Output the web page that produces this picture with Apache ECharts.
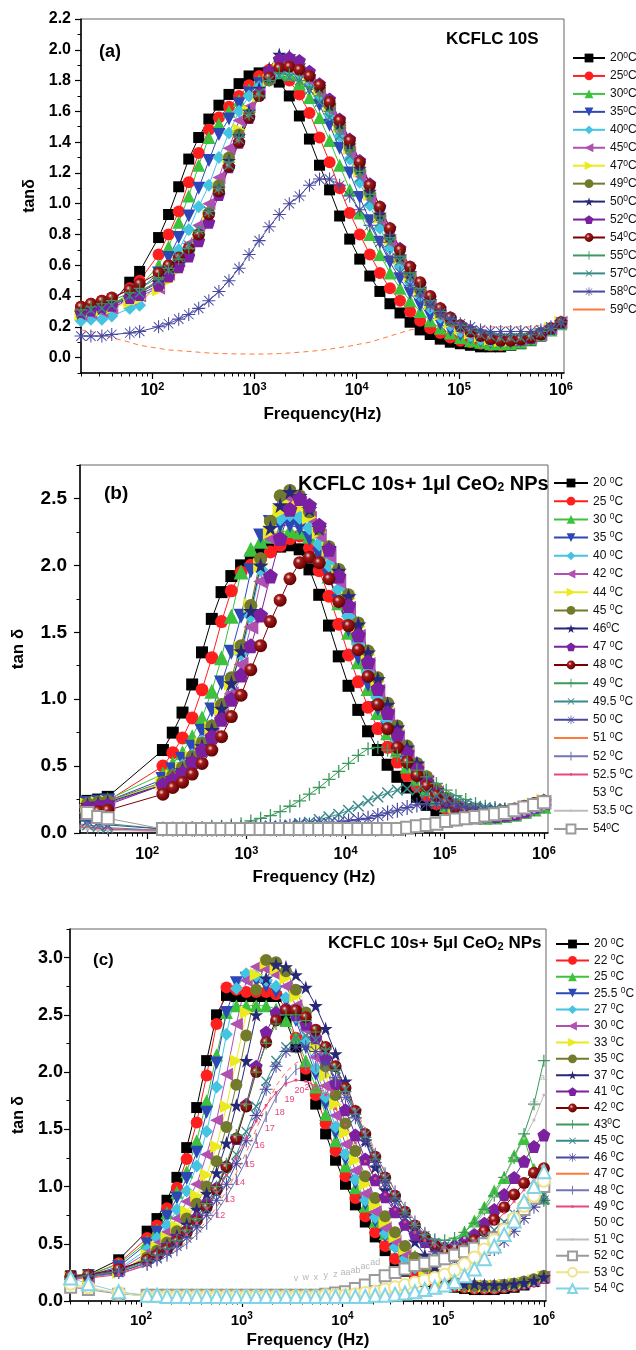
<!DOCTYPE html>
<html><head><meta charset="utf-8">
<script src="https://cdn.jsdelivr.net/npm/echarts@6/dist/echarts.min.js"></script>
<style>html,body{margin:0;padding:0;background:#fff}#c{width:636px;height:1350px}</style>
</head><body><div id="c"></div>
<script>
// ---------------- DATA ----------------
const freqA = [20,25,32,40,60,75,115,144,181,227,284,357,448,562,705,884,1109,1391,1746,2190,2748,3447,4325,5427,6808,8542,10715,13445,16866,21163,26546,33304,41783,52420,65766,82508,103514,129866,162930,204410,256448,321737,403645,506406,635331,797077,1000000];
const freqB = [20,25,32,40,144,181,227,284,357,448,562,705,884,1109,1391,1746,2190,2748,3447,4325,5427,6808,8542,10715,13445,16866,21163,26546,33304,41783,52420,65766,82508,103514,129866,162930,204410,256448,321737,403645,506406,635331,797077,1000000];
const freqC = [20,30,60,115,144,181,227,284,357,448,562,705,884,1109,1391,1746,2190,2748,3447,4325,5427,6808,8542,10715,13445,16866,21163,26546,33304,41783,52420,65766,82508,103514,129866,162930,204410,256448,321737,403645,506406,635331,797077,1000000];

const xTicks = [100,1000,10000,100000,1000000];
const yTicksA = [0,0.2,0.4,0.6,0.8,1.0,1.2,1.4,1.6,1.8,2.0,2.2];
const yTicksB = [0,0.5,1.0,1.5,2.0,2.5];
const yTicksC = [0,0.5,1.0,1.5,2.0,2.5,3.0];

const tempsA = ['20','25','30','35','40','45','47','49','50','52','54','55','57','58','59'];
const tempsB = ['20 ','25 ','30 ','35 ','40 ','42 ','44 ','45 ','46','47 ','48 ','49 ','49.5 ','50 ','51 ','52 ','52.5 ','53 ','53.5 ','54'];
const tempsC = ['20 ','22 ','25 ','25.5 ','27 ','30 ','33 ','35 ','37 ','41 ','42 ','43','45 ','46 ','47 ','48 ','49 ','50 ','51 ','52 ','53 ','54 '];

// panel (a)
const a20 = [0.30,0.31,0.33,0.35,0.49,0.56,0.78,0.93,1.11,1.29,1.43,1.55,1.64,1.71,1.78,1.83,1.85,1.84,1.79,1.70,1.57,1.42,1.25,1.09,0.92,0.77,0.64,0.53,0.43,0.35,0.29,0.23,0.18,0.15,0.12,0.10,0.09,0.08,0.07,0.07,0.07,0.08,0.09,0.11,0.14,0.18,0.22];
const a25 = [0.33,0.35,0.37,0.38,0.45,0.50,0.67,0.80,0.95,1.14,1.33,1.48,1.56,1.63,1.70,1.77,1.83,1.87,1.86,1.80,1.71,1.59,1.43,1.27,1.10,0.94,0.80,0.67,0.55,0.45,0.37,0.30,0.24,0.19,0.16,0.13,0.11,0.10,0.09,0.08,0.08,0.09,0.10,0.12,0.15,0.18,0.22];
const a30 = [0.29,0.30,0.32,0.34,0.42,0.46,0.60,0.72,0.88,1.05,1.25,1.43,1.52,1.60,1.67,1.74,1.80,1.84,1.85,1.84,1.78,1.69,1.56,1.41,1.25,1.09,0.94,0.80,0.67,0.55,0.45,0.37,0.30,0.24,0.19,0.16,0.13,0.11,0.10,0.09,0.09,0.09,0.10,0.12,0.15,0.18,0.22];
const a35 = [0.27,0.28,0.30,0.31,0.40,0.44,0.55,0.65,0.78,0.92,1.10,1.28,1.45,1.55,1.65,1.72,1.78,1.83,1.85,1.85,1.82,1.75,1.64,1.51,1.36,1.20,1.04,0.89,0.75,0.62,0.51,0.42,0.34,0.27,0.22,0.18,0.15,0.13,0.11,0.10,0.10,0.10,0.11,0.12,0.15,0.18,0.22];
const a40 = [0.24,0.25,0.25,0.27,0.32,0.34,0.50,0.60,0.70,0.83,0.98,1.12,1.30,1.46,1.60,1.70,1.76,1.81,1.85,1.85,1.84,1.79,1.70,1.58,1.44,1.29,1.14,0.99,0.84,0.71,0.59,0.49,0.40,0.32,0.26,0.21,0.17,0.14,0.12,0.11,0.11,0.11,0.12,0.13,0.15,0.18,0.22];
const a45 = [0.28,0.29,0.30,0.32,0.38,0.40,0.45,0.54,0.63,0.74,0.86,1.00,1.17,1.36,1.54,1.63,1.72,1.82,1.90,1.88,1.85,1.80,1.72,1.61,1.48,1.33,1.18,1.03,0.89,0.75,0.63,0.52,0.42,0.34,0.27,0.22,0.18,0.15,0.13,0.12,0.11,0.11,0.12,0.13,0.15,0.19,0.23];
const a47 = [0.28,0.30,0.31,0.32,0.36,0.38,0.44,0.50,0.57,0.66,0.78,0.92,1.10,1.28,1.48,1.60,1.70,1.80,1.88,1.90,1.88,1.82,1.74,1.63,1.50,1.36,1.21,1.06,0.91,0.77,0.64,0.53,0.43,0.35,0.28,0.23,0.19,0.16,0.14,0.12,0.11,0.11,0.12,0.13,0.15,0.19,0.23];
const a49 = [0.30,0.32,0.33,0.35,0.40,0.43,0.50,0.56,0.62,0.69,0.80,0.94,1.12,1.30,1.45,1.58,1.70,1.80,1.88,1.90,1.88,1.83,1.75,1.64,1.51,1.37,1.22,1.07,0.92,0.78,0.65,0.54,0.44,0.36,0.29,0.24,0.20,0.17,0.15,0.13,0.12,0.12,0.12,0.13,0.16,0.19,0.23];
const a50 = [0.29,0.31,0.32,0.34,0.39,0.42,0.49,0.55,0.61,0.69,0.79,0.93,1.10,1.28,1.44,1.60,1.75,1.88,1.97,1.96,1.90,1.83,1.76,1.64,1.52,1.38,1.23,1.08,0.93,0.79,0.66,0.55,0.45,0.37,0.30,0.25,0.21,0.18,0.16,0.14,0.13,0.13,0.13,0.14,0.16,0.19,0.23];
const a52 = [0.30,0.31,0.33,0.34,0.39,0.41,0.47,0.53,0.59,0.66,0.76,0.88,1.06,1.24,1.40,1.56,1.72,1.86,1.94,1.95,1.93,1.86,1.78,1.68,1.55,1.42,1.28,1.13,0.98,0.84,0.71,0.59,0.48,0.39,0.32,0.26,0.21,0.18,0.15,0.13,0.12,0.12,0.12,0.13,0.16,0.19,0.23];
const a54 = [0.33,0.35,0.37,0.39,0.44,0.48,0.55,0.60,0.65,0.71,0.80,0.93,1.08,1.24,1.40,1.56,1.70,1.82,1.88,1.89,1.87,1.83,1.77,1.66,1.54,1.41,1.27,1.12,0.98,0.84,0.70,0.59,0.49,0.40,0.32,0.26,0.21,0.17,0.14,0.12,0.11,0.11,0.12,0.13,0.15,0.19,0.23];
const a55 = [0.31,0.33,0.35,0.37,0.42,0.45,0.52,0.58,0.64,0.71,0.82,0.95,1.10,1.27,1.43,1.58,1.70,1.80,1.85,1.84,1.80,1.76,1.70,1.60,1.48,1.35,1.21,1.06,0.92,0.78,0.66,0.55,0.45,0.37,0.30,0.25,0.21,0.19,0.17,0.16,0.15,0.15,0.15,0.15,0.17,0.19,0.23];
const a57 = [0.29,0.31,0.32,0.34,0.40,0.42,0.50,0.57,0.65,0.73,0.83,0.95,1.10,1.25,1.42,1.58,1.72,1.80,1.83,1.82,1.80,1.74,1.66,1.56,1.44,1.31,1.17,1.02,0.88,0.75,0.63,0.52,0.43,0.35,0.29,0.24,0.20,0.17,0.15,0.14,0.13,0.13,0.13,0.14,0.16,0.19,0.23];
const a58 = [0.14,0.14,0.14,0.15,0.16,0.17,0.20,0.22,0.25,0.28,0.32,0.37,0.43,0.50,0.58,0.67,0.76,0.85,0.93,1.00,1.05,1.12,1.16,1.16,1.12,1.05,0.96,0.86,0.75,0.65,0.55,0.47,0.40,0.34,0.29,0.25,0.22,0.20,0.18,0.17,0.17,0.17,0.17,0.17,0.18,0.20,0.23];
const a59 = [0.18,0.17,0.15,0.13,0.10,0.08,0.06,0.05,0.045,0.04,0.035,0.03,0.027,0.025,0.024,0.023,0.023,0.024,0.026,0.03,0.035,0.04,0.047,0.055,0.065,0.075,0.088,0.10,0.12,0.14,0.16,0.18,0.19,0.20,0.21,0.21,0.21,0.20,0.20,0.20,0.20,0.20,0.20,0.20,0.21,0.21,0.22];

// panel (b)
const b20 = [0.22,0.24,0.25,0.27,0.62,0.75,0.90,1.11,1.35,1.60,1.80,1.92,2.00,2.05,2.10,2.12,2.14,2.15,2.12,1.97,1.78,1.55,1.32,1.10,0.92,0.76,0.62,0.51,0.42,0.34,0.27,0.21,0.17,0.14,0.12,0.11,0.11,0.11,0.12,0.13,0.14,0.16,0.18,0.20];
const b25 = [0.20,0.21,0.22,0.24,0.50,0.60,0.71,0.86,1.07,1.31,1.58,1.81,1.95,2.00,2.05,2.10,2.15,2.20,2.22,2.13,1.96,1.77,1.56,1.33,1.13,0.94,0.78,0.64,0.53,0.43,0.35,0.28,0.22,0.18,0.15,0.13,0.12,0.12,0.12,0.13,0.14,0.16,0.18,0.20];
const b30 = [0.21,0.22,0.23,0.25,0.44,0.52,0.60,0.72,0.86,1.06,1.31,1.62,1.95,2.12,2.18,2.22,2.25,2.26,2.25,2.22,2.10,1.92,1.72,1.50,1.28,1.08,0.90,0.75,0.62,0.50,0.41,0.33,0.26,0.21,0.17,0.15,0.13,0.12,0.12,0.13,0.14,0.16,0.18,0.20];
const b35 = [0.21,0.22,0.23,0.24,0.40,0.47,0.55,0.64,0.76,0.92,1.12,1.35,1.62,1.96,2.22,2.32,2.30,2.30,2.28,2.20,2.08,1.92,1.73,1.52,1.31,1.11,0.93,0.78,0.64,0.52,0.42,0.34,0.27,0.22,0.18,0.15,0.13,0.12,0.12,0.13,0.14,0.16,0.18,0.21];
const b40 = [0.20,0.21,0.22,0.23,0.37,0.43,0.50,0.58,0.68,0.80,0.95,1.12,1.34,1.62,1.97,2.22,2.35,2.38,2.36,2.28,2.16,2.00,1.82,1.62,1.41,1.20,1.01,0.84,0.69,0.56,0.45,0.36,0.29,0.23,0.19,0.16,0.14,0.13,0.13,0.14,0.15,0.17,0.19,0.22];
const b42 = [0.19,0.20,0.21,0.22,0.36,0.41,0.47,0.54,0.63,0.74,0.88,1.04,1.26,1.54,1.88,2.20,2.42,2.50,2.45,2.35,2.22,2.07,1.88,1.68,1.47,1.26,1.06,0.88,0.72,0.59,0.48,0.38,0.30,0.24,0.19,0.16,0.14,0.13,0.13,0.14,0.15,0.17,0.20,0.23];
const b44 = [0.20,0.21,0.22,0.23,0.37,0.42,0.48,0.56,0.66,0.78,0.93,1.12,1.38,1.70,2.00,2.25,2.40,2.45,2.43,2.36,2.25,2.12,1.95,1.75,1.54,1.33,1.13,0.94,0.77,0.63,0.51,0.41,0.32,0.25,0.20,0.17,0.15,0.14,0.14,0.15,0.16,0.18,0.21,0.24];
const b45 = [0.21,0.22,0.23,0.24,0.38,0.43,0.49,0.57,0.67,0.80,0.96,1.16,1.40,1.70,2.05,2.33,2.52,2.56,2.52,2.40,2.27,2.14,1.97,1.78,1.57,1.36,1.16,0.97,0.80,0.65,0.52,0.42,0.33,0.26,0.21,0.18,0.16,0.14,0.14,0.15,0.16,0.18,0.21,0.24];
const b46 = [0.20,0.21,0.22,0.23,0.36,0.41,0.47,0.55,0.65,0.77,0.93,1.12,1.36,1.66,2.00,2.28,2.45,2.55,2.52,2.42,2.28,2.13,1.96,1.77,1.56,1.35,1.15,0.96,0.79,0.64,0.52,0.41,0.32,0.26,0.21,0.17,0.15,0.14,0.14,0.15,0.16,0.18,0.21,0.24];
const b47 = [0.18,0.19,0.20,0.21,0.36,0.40,0.45,0.53,0.62,0.72,0.85,1.00,1.18,1.40,1.63,1.92,2.20,2.42,2.50,2.45,2.30,2.12,1.92,1.70,1.48,1.28,1.08,0.90,0.74,0.60,0.48,0.38,0.30,0.24,0.19,0.16,0.14,0.13,0.13,0.14,0.15,0.17,0.20,0.23];
const b48 = [0.14,0.15,0.16,0.17,0.29,0.34,0.38,0.44,0.52,0.62,0.72,0.87,1.03,1.22,1.40,1.58,1.74,1.90,2.02,2.06,2.02,1.90,1.73,1.55,1.37,1.17,0.96,0.78,0.64,0.53,0.43,0.35,0.28,0.23,0.19,0.16,0.15,0.14,0.15,0.16,0.18,0.20,0.22,0.24];
const b49 = [0.10,0.09,0.08,0.07,0.03,0.03,0.03,0.04,0.04,0.05,0.05,0.06,0.07,0.09,0.11,0.13,0.16,0.20,0.24,0.29,0.34,0.40,0.46,0.52,0.58,0.63,0.64,0.62,0.58,0.53,0.47,0.42,0.37,0.32,0.28,0.25,0.22,0.20,0.19,0.18,0.18,0.19,0.21,0.24];
const b49_5 = [0.07,0.06,0.05,0.04,0.02,0.02,0.02,0.02,0.02,0.03,0.03,0.03,0.03,0.04,0.04,0.05,0.05,0.06,0.07,0.08,0.10,0.12,0.14,0.17,0.20,0.24,0.27,0.30,0.32,0.33,0.32,0.30,0.28,0.26,0.24,0.22,0.20,0.19,0.18,0.18,0.18,0.19,0.21,0.23];
const b50 = [0.10,0.09,0.08,0.06,0.03,0.03,0.03,0.03,0.03,0.03,0.04,0.04,0.04,0.04,0.05,0.05,0.05,0.05,0.06,0.06,0.07,0.07,0.08,0.09,0.10,0.11,0.13,0.15,0.17,0.19,0.21,0.22,0.22,0.21,0.20,0.19,0.18,0.17,0.17,0.17,0.17,0.18,0.19,0.21];
const b51 = [0.06,0.05,0.04,0.03,0.02,0.02,0.02,0.02,0.02,0.02,0.02,0.02,0.02,0.02,0.02,0.02,0.02,0.02,0.02,0.02,0.02,0.02,0.02,0.02,0.02,0.03,0.03,0.04,0.05,0.06,0.08,0.09,0.11,0.12,0.13,0.14,0.14,0.15,0.15,0.16,0.16,0.17,0.18,0.19];
const b52 = [0.05,0.04,0.04,0.03,0.02,0.02,0.02,0.02,0.02,0.02,0.02,0.02,0.02,0.02,0.02,0.02,0.02,0.02,0.02,0.02,0.02,0.02,0.02,0.02,0.02,0.02,0.02,0.03,0.03,0.04,0.05,0.06,0.07,0.09,0.10,0.11,0.12,0.13,0.14,0.15,0.16,0.17,0.18,0.19];
const b52_5 = [0.04,0.04,0.03,0.03,0.01,0.01,0.01,0.01,0.01,0.01,0.01,0.01,0.01,0.01,0.01,0.01,0.01,0.01,0.01,0.01,0.01,0.01,0.01,0.01,0.01,0.01,0.02,0.02,0.03,0.03,0.04,0.05,0.06,0.07,0.08,0.09,0.10,0.11,0.12,0.13,0.14,0.15,0.17,0.19];
const b53 = [0.03,0.03,0.03,0.02,0.01,0.01,0.01,0.01,0.01,0.01,0.01,0.01,0.01,0.01,0.01,0.01,0.01,0.01,0.01,0.01,0.01,0.01,0.01,0.01,0.01,0.01,0.01,0.01,0.02,0.02,0.03,0.04,0.05,0.06,0.07,0.08,0.09,0.10,0.11,0.12,0.13,0.14,0.16,0.18];
const b53_5 = [0.03,0.03,0.02,0.02,0.01,0.01,0.01,0.01,0.01,0.01,0.01,0.01,0.01,0.01,0.01,0.01,0.01,0.01,0.01,0.01,0.01,0.01,0.01,0.01,0.01,0.01,0.01,0.01,0.01,0.02,0.02,0.03,0.04,0.05,0.06,0.07,0.08,0.09,0.10,0.11,0.12,0.14,0.16,0.18];
const b54 = [0.15,0.15,0.12,0.11,0.03,0.03,0.03,0.03,0.03,0.03,0.03,0.03,0.03,0.03,0.03,0.03,0.03,0.03,0.03,0.03,0.03,0.03,0.03,0.03,0.03,0.03,0.03,0.03,0.03,0.04,0.05,0.06,0.07,0.09,0.10,0.11,0.12,0.13,0.14,0.15,0.17,0.19,0.21,0.23];

// panel (c)
const c20 = [0.22,0.23,0.36,0.61,0.72,0.88,1.08,1.34,1.69,2.10,2.50,2.67,2.66,2.66,2.66,2.66,2.66,2.45,2.22,1.97,1.72,1.46,1.23,1.02,0.84,0.69,0.56,0.44,0.34,0.26,0.21,0.17,0.15,0.14,0.12,0.11,0.10,0.10,0.10,0.11,0.12,0.14,0.17,0.20];
const c22 = [0.21,0.22,0.33,0.55,0.66,0.81,0.99,1.24,1.56,1.97,2.42,2.74,2.72,2.70,2.70,2.70,2.68,2.55,2.30,2.03,1.80,1.55,1.31,1.09,0.90,0.74,0.60,0.48,0.37,0.29,0.23,0.18,0.16,0.14,0.13,0.12,0.11,0.11,0.11,0.12,0.13,0.15,0.17,0.20];
const c25 = [0.22,0.23,0.32,0.52,0.62,0.77,0.95,1.13,1.40,1.75,2.15,2.52,2.58,2.58,2.58,2.58,2.55,2.45,2.30,2.10,1.87,1.63,1.40,1.18,0.99,0.83,0.70,0.59,0.50,0.43,0.39,0.38,0.40,0.45,0.52,0.60,0.70,0.82,0.96,1.08,1.27,1.42,1.15,0.90];
const c25_5 = [0.20,0.22,0.30,0.50,0.60,0.74,0.90,1.07,1.30,1.65,2.08,2.52,2.78,2.82,2.80,2.75,2.70,2.62,2.45,2.22,1.98,1.72,1.47,1.24,1.03,0.85,0.70,0.57,0.46,0.36,0.28,0.22,0.18,0.16,0.14,0.13,0.12,0.12,0.12,0.13,0.14,0.15,0.17,0.20];
const c27 = [0.19,0.21,0.28,0.45,0.55,0.66,0.80,0.96,1.18,1.48,1.87,2.33,2.73,2.86,2.84,2.80,2.75,2.65,2.48,2.27,2.03,1.78,1.52,1.28,1.06,0.88,0.73,0.59,0.47,0.37,0.29,0.23,0.19,0.16,0.14,0.13,0.12,0.12,0.12,0.13,0.14,0.16,0.18,0.21];
const c30 = [0.19,0.20,0.27,0.42,0.50,0.60,0.72,0.87,1.02,1.28,1.58,1.98,2.42,2.80,2.92,2.90,2.85,2.75,2.58,2.37,2.13,1.88,1.62,1.37,1.14,0.94,0.78,0.64,0.52,0.41,0.32,0.25,0.20,0.17,0.15,0.14,0.13,0.13,0.13,0.14,0.15,0.16,0.18,0.21];
const c33 = [0.20,0.21,0.25,0.40,0.47,0.55,0.65,0.78,0.92,1.10,1.35,1.70,2.10,2.52,2.85,2.95,2.90,2.82,2.66,2.46,2.22,1.97,1.72,1.47,1.23,1.02,0.84,0.69,0.56,0.45,0.35,0.27,0.22,0.18,0.16,0.14,0.13,0.13,0.13,0.14,0.15,0.16,0.18,0.21];
const c35 = [0.21,0.22,0.26,0.38,0.44,0.51,0.61,0.72,0.85,1.00,1.22,1.52,1.89,2.32,2.72,2.98,2.96,2.88,2.72,2.52,2.30,2.05,1.80,1.55,1.31,1.09,0.90,0.74,0.60,0.48,0.38,0.30,0.24,0.19,0.16,0.14,0.13,0.13,0.13,0.14,0.15,0.17,0.19,0.22];
const c37 = [0.20,0.22,0.27,0.36,0.42,0.49,0.57,0.67,0.80,0.94,1.12,1.38,1.71,2.10,2.50,2.82,2.94,2.92,2.85,2.74,2.58,2.38,2.16,1.92,1.66,1.40,1.17,0.97,0.80,0.66,0.52,0.40,0.30,0.22,0.17,0.15,0.15,0.14,0.14,0.14,0.15,0.16,0.18,0.21];
const c41 = [0.20,0.22,0.27,0.36,0.41,0.47,0.54,0.62,0.73,0.85,0.99,1.18,1.42,1.72,2.05,2.35,2.52,2.55,2.50,2.42,2.30,2.12,1.90,1.67,1.45,1.24,1.06,0.91,0.78,0.67,0.58,0.52,0.48,0.47,0.48,0.52,0.58,0.68,0.80,0.93,1.08,1.22,1.35,1.45];
const c42 = [0.22,0.23,0.28,0.36,0.40,0.45,0.52,0.60,0.70,0.82,0.97,1.17,1.42,1.70,2.00,2.26,2.45,2.54,2.54,2.48,2.37,2.22,2.05,1.86,1.66,1.46,1.26,1.08,0.92,0.78,0.66,0.56,0.49,0.45,0.44,0.47,0.53,0.61,0.71,0.82,0.93,1.03,1.12,1.16];
const c43 = [0.20,0.22,0.26,0.35,0.40,0.46,0.53,0.62,0.72,0.85,1.00,1.20,1.45,1.72,2.00,2.25,2.42,2.50,2.50,2.45,2.35,2.20,2.02,1.83,1.63,1.43,1.24,1.06,0.90,0.77,0.66,0.58,0.54,0.53,0.55,0.60,0.68,0.80,0.92,1.08,1.25,1.46,1.72,2.10];
const c45 = [0.20,0.21,0.25,0.34,0.38,0.43,0.50,0.58,0.68,0.80,0.94,1.10,1.28,1.48,1.70,1.92,2.10,2.22,2.30,2.32,2.28,2.18,2.03,1.85,1.65,1.45,1.25,1.07,0.91,0.77,0.66,0.57,0.51,0.48,0.47,0.48,0.51,0.56,0.62,0.69,0.76,0.83,0.89,0.93];
const c46 = [0.19,0.21,0.25,0.33,0.37,0.42,0.48,0.55,0.64,0.75,0.88,1.02,1.20,1.40,1.62,1.85,2.05,2.18,2.22,2.22,2.18,2.08,1.95,1.78,1.60,1.40,1.21,1.03,0.87,0.73,0.61,0.51,0.43,0.38,0.35,0.34,0.36,0.40,0.45,0.52,0.61,0.72,0.82,0.88];
const c47 = [0.20,0.21,0.24,0.32,0.36,0.40,0.45,0.52,0.60,0.70,0.82,0.96,1.12,1.30,1.50,1.70,1.88,2.00,2.08,2.12,2.12,2.08,2.00,1.85,1.68,1.50,1.31,1.13,0.96,0.81,0.68,0.58,0.50,0.45,0.43,0.42,0.43,0.46,0.51,0.58,0.67,0.77,0.88,0.98];
const c48 = [0.19,0.21,0.24,0.31,0.35,0.39,0.44,0.50,0.58,0.67,0.78,0.91,1.06,1.23,1.42,1.61,1.78,1.92,2.02,2.06,2.05,2.00,1.92,1.80,1.64,1.47,1.29,1.12,0.96,0.82,0.70,0.60,0.53,0.48,0.46,0.46,0.48,0.52,0.58,0.66,0.75,0.85,0.95,1.05];
const c49 = [0.19,0.20,0.23,0.32,0.37,0.43,0.50,0.58,0.68,0.81,0.95,1.10,1.25,1.42,1.57,1.71,1.82,1.90,1.93,1.92,1.88,1.80,1.68,1.54,1.38,1.22,1.07,0.93,0.80,0.69,0.60,0.53,0.48,0.46,0.46,0.48,0.53,0.60,0.68,0.77,0.87,0.97,1.06,1.12];
const c50 = [0.19,0.20,0.23,0.30,0.34,0.38,0.43,0.49,0.56,0.65,0.76,0.88,1.02,1.18,1.36,1.54,1.70,1.82,1.90,1.93,1.92,1.88,1.80,1.68,1.53,1.37,1.21,1.06,0.92,0.79,0.68,0.59,0.52,0.48,0.46,0.46,0.48,0.53,0.60,0.68,0.77,0.87,0.96,1.04];
const c51 = [0.13,0.11,0.07,0.04,0.04,0.04,0.04,0.04,0.04,0.04,0.04,0.04,0.04,0.04,0.04,0.04,0.05,0.05,0.05,0.06,0.06,0.07,0.08,0.10,0.12,0.15,0.19,0.23,0.27,0.31,0.34,0.37,0.40,0.44,0.48,0.55,0.65,0.78,0.92,1.08,1.25,1.42,1.58,1.80];
const c52 = [0.12,0.10,0.06,0.05,0.05,0.05,0.05,0.05,0.05,0.05,0.05,0.05,0.05,0.05,0.05,0.05,0.05,0.05,0.05,0.05,0.05,0.06,0.07,0.08,0.11,0.14,0.18,0.22,0.25,0.28,0.31,0.33,0.35,0.37,0.40,0.43,0.46,0.50,0.55,0.62,0.70,0.80,0.90,1.00];
const c53 = [0.15,0.12,0.07,0.04,0.04,0.04,0.04,0.04,0.04,0.04,0.04,0.04,0.04,0.04,0.04,0.04,0.04,0.04,0.04,0.04,0.04,0.05,0.05,0.05,0.06,0.07,0.08,0.10,0.12,0.14,0.16,0.18,0.20,0.23,0.27,0.32,0.38,0.45,0.53,0.62,0.72,0.83,0.92,1.05];
const c54 = [0.20,0.15,0.08,0.05,0.05,0.04,0.04,0.04,0.04,0.04,0.04,0.04,0.04,0.04,0.04,0.04,0.04,0.04,0.04,0.04,0.04,0.04,0.04,0.04,0.04,0.04,0.05,0.05,0.06,0.07,0.08,0.10,0.12,0.14,0.17,0.22,0.28,0.37,0.48,0.58,0.70,0.87,1.00,1.13];

// point-label texts seen on panel (c)
const labels49 = ['','','','','','','','','','12','13','14','15','16','17','18','19','20','21','22','23','','','','','','','','','','','','','','','','','','','','','','',''];
const labels51 = ['','','','','','','','','','','','','','','','','','','v','w','x','y','z','aa','ab','ac','ad','','','','','','','','','','','','','','','','as','at'];

const valsA = [a20,a25,a30,a35,a40,a45,a47,a49,a50,a52,a54,a55,a57,a58,a59];
const valsB = [b20,b25,b30,b35,b40,b42,b44,b45,b46,b47,b48,b49,b49_5,b50,b51,b52,b52_5,b53,b53_5,b54];
const valsC = [c20,c22,c25,c25_5,c27,c30,c33,c35,c37,c41,c42,c43,c45,c46,c47,c48,c49,c50,c51,c52,c53,c54];

// ---------------- STYLE ----------------
const FONT = '"Liberation Sans", Arial, sans-serif';
const P = {
  star: 'path://M50,0L61,35L98,35L68,57L79,91L50,70L21,91L32,57L2,35L39,35Z',
  pent: 'path://M50,0L98,35L79,91L21,91L2,35Z',
  plus: 'path://M45,0L55,0L55,45L100,45L100,55L55,55L55,100L45,100L45,55L0,55L0,45L45,45Z',
  aster: 'path://M46,0L54,0L54,100L46,100Z M0,46L100,46L100,54L0,54Z M11,16L16,11L89,84L84,89Z M84,11L89,16L16,89L11,84Z',
  vbar: 'path://M44,0L56,0L56,100L44,100Z M0,50L0.5,50L0,50.5Z M100,50L99.5,50L100,50.5Z',
  dot: 'path://M38,38L62,38L62,62L38,62Z M0,0L0.5,0L0,0.5Z M100,100L99.5,100L100,99.5Z'
};
const sphere = {type:'radial',x:0.38,y:0.35,r:0.7,colorStops:[{offset:0,color:'#f4dada'},{offset:0.28,color:'#a31a1a'},{offset:1,color:'#580000'}]};
const BASE = [
  {sym:'rect', size:9, color:'#000000'},
  {sym:'circle', size:10, color:'#ff1f1f'},
  {sym:'triangle', size:11, color:'#3cc23c'},
  {sym:'triangle', rot:180, size:11, color:'#2c48b6'},
  {sym:'diamond', size:11, color:'#44c4e0'},
  {sym:'triangle', rot:90, size:11, color:'#b050b0'},
  {sym:'triangle', rot:-90, size:11, color:'#eaea1e'},
  {sym:'circle', size:10, color:'#727a2c'},
  {sym:P.star, size:12, color:'#282878'},
  {sym:P.pent, size:11, color:'#7a20a0'},
  {sym:'circle', size:10, color:'#7a0000', fill:sphere},
  {sym:P.plus, size:10, color:'#3c9a5c'},
  {sym:P.plus, rot:45, size:11, color:'#3a8a8a'},
  {sym:P.aster, size:11, color:'#4848a0'},
  {sym:'none', color:'#ff7a3a', dash:true}
];
const VBAR = {sym:P.vbar, size:9, color:'#7474b8'};
const PINK = {sym:P.dot, size:9, color:'#e6487e'};
const WHITE = {sym:'none', color:'#ffffff', hidden:true};
const LGRAY = {sym:P.dot, size:9, color:'#bdbdbd'};
const GSQ = {sym:'emptyRect', size:9, color:'#9a9a9a'};
const YCIR = {sym:'emptyCircle', size:10, color:'#efe38c'};
const CTRI = {sym:'emptyTriangle', size:11, color:'#80d4e6'};
const STY_A = BASE;
const STY_B = BASE.concat([VBAR, PINK, WHITE, LGRAY, GSQ]);
const STY_C = BASE.concat([VBAR, PINK, WHITE, LGRAY, GSQ, YCIR, CTRI]);

const LEG = {};
const series = [];
const legendData = [[],[],[]];
const panels = [
  {freq:freqA, vals:valsA, temps:tempsA, sty:STY_A, scale:1.2, dash:true},
  {freq:freqB, vals:valsB, temps:tempsB, sty:STY_B, scale:1.32, dash:false},
  {freq:freqC, vals:valsC, temps:tempsC, sty:STY_C, scale:1.2, dash:true}
];
const pointLabels = {'2_16': {txt:labels49, color:'#e8447c', pos:'right', off:[-2,7]}, '2_18': {txt:labels51, color:'#b8b8b8', pos:'top', off:[0,-2]}};
panels.forEach((p, pi) => {
  p.vals.forEach((vals, si) => {
    const st = p.sty[si];
    const id = 'p' + pi + '_' + si;
    LEG[id] = '{n|' + p.temps[si] + '}{s|0}{n|C}';
    if (st.sym === 'none') legendData[pi].push({name:id, itemStyle:{opacity:0}, lineStyle:{type:'solid'}});
    else legendData[pi].push(id);
    const lab = pointLabels[pi + '_' + si];
    const data = p.freq.map((f, i) => {
      if (lab && lab.txt[i]) {
        return {value:[f, vals[i]], label:{show:true, formatter:lab.txt[i], position:lab.pos, offset:lab.off, color:lab.color, fontSize:9, fontFamily:FONT}};
      }
      return [f, vals[i]];
    });
    const size = st.size ? Math.round(st.size * p.scale) : 4;
    series.push({
      type:'line', name:id, xAxisIndex:pi*2, yAxisIndex:pi*2, data,
      symbol: st.sym === 'none' ? 'none' : st.sym,
      showSymbol: st.sym !== 'none',
      symbolSize: size, symbolRotate: st.rot || 0,
      itemStyle:{color: st.fill || st.color, opacity:1},
      lineStyle:{color: st.color, width:1, opacity: st.hidden ? 0 : 1, type: (st.dash && p.dash) ? [5,4] : 'solid'},
      label:{show:false},
      emphasis:{disabled:true}, animation:false, z: 2
    });
  });
});

function minorX(min, max) {
  const out = [];
  for (let d = 1; d <= 6; d++) for (let m = 2; m <= 9; m++) {
    const v = m * Math.pow(10, d);
    if (v >= min && v <= max) out.push(v);
  }
  return out;
}
function between(t) { const o = []; for (let i = 0; i < t.length - 1; i++) o.push(+((t[i] + t[i+1]) / 2).toFixed(3)); return o; }

function xAxes(g, min, max, fs, margin, name, gap, nfs) {
  return [{
    type:'log', gridIndex:g, min, max, position:'bottom',
    axisLine:{show:true, onZero:false, lineStyle:{color:'#000', width:1.5}},
    axisTick:{show:true, length:6, customValues:xTicks, lineStyle:{color:'#000', width:1.2}},
    axisLabel:{show:true, customValues:xTicks, margin,
      formatter: v => '{b|10}{e|' + Math.round(Math.log10(v)) + '}',
      rich:{b:{fontSize:fs, fontWeight:'bold', fontFamily:FONT, color:'#000', lineHeight:fs+4},
            e:{fontSize:Math.round(fs*0.68), fontWeight:'bold', fontFamily:FONT, color:'#000', verticalAlign:'top', lineHeight:Math.round(fs*0.7)}}},
    splitLine:{show:false}, minorTick:{show:false},
    name, nameLocation:'middle', nameGap:gap,
    nameTextStyle:{fontSize:nfs, fontWeight:'bold', fontFamily:FONT, color:'#000'}
  }, {
    type:'log', gridIndex:g, min, max, position:'bottom',
    axisLine:{show:false, onZero:false},
    axisTick:{show:true, length:3.5, customValues:minorX(min, max), lineStyle:{color:'#000', width:1}},
    axisLabel:{show:false}, splitLine:{show:false}
  }];
}
function yAxes(g, min, max, ticks, minor, fs, margin, name, gap, nfs) {
  return [{
    type:'value', gridIndex:g, min, max, position:'left',
    axisLine:{show:true, onZero:false, lineStyle:{color:'#000', width:1.5}},
    axisTick:{show:true, length:6, customValues:ticks, lineStyle:{color:'#000', width:1.2}},
    axisLabel:{show:true, customValues:ticks, margin, formatter: v => v.toFixed(1),
      fontSize:fs, fontWeight:'bold', fontFamily:FONT, color:'#000'},
    splitLine:{show:false},
    name, nameLocation:'middle', nameGap:gap, nameRotate:90,
    nameTextStyle:{fontSize:nfs, fontWeight:'bold', fontFamily:FONT, color:'#000'}
  }, {
    type:'value', gridIndex:g, min, max, position:'left',
    axisLine:{show:false, onZero:false},
    axisTick:{show:true, length:3.5, customValues:minor, lineStyle:{color:'#000', width:1}},
    axisLabel:{show:false}, splitLine:{show:false}
  }];
}

function legend(pi, left, top, gap, w) {
  return {
    orient:'vertical', left, top, itemGap:gap, itemWidth:w, itemHeight:11, padding:0,
    data:legendData[pi], selectedMode:false,
    formatter: n => LEG[n],
    textStyle:{fontFamily:FONT, fontSize:12, color:'#111',
      rich:{n:{fontSize:12, lineHeight:14, fontFamily:FONT, color:'#111'},
            s:{fontSize:8.5, lineHeight:9, verticalAlign:'top', fontFamily:FONT, color:'#111'}}}
  };
}

const option = {
  backgroundColor:'#ffffff',
  animation:false,
  grid:[
    {left:81, top:19, width:483, height:354, show:true, borderColor:'#666', borderWidth:1},
    {left:80, top:465, width:468, height:368, show:true, borderColor:'#666', borderWidth:1},
    {left:70, top:929, width:476, height:374, show:true, borderColor:'#666', borderWidth:1}
  ],
  xAxis: [].concat(
    xAxes(0, 20, 1070000, 16, 8, 'Frequency(Hz)', 33, 17),
    xAxes(1, 21, 1100000, 16, 12, 'Frequency (Hz)', 36, 17),
    xAxes(2, 19.7, 1050000, 15, 10, 'Frequency (Hz)', 31, 17)
  ),
  yAxis: [].concat(
    yAxes(0, -0.1, 2.2, yTicksA, [-0.1,0.1,0.3,0.5,0.7,0.9,1.1,1.3,1.5,1.7,1.9,2.1], 16, 10, 'tanδ', 43, 16),
    yAxes(1, 0, 2.75, yTicksB, between(yTicksB.concat([3.0])), 19, 13, 'tan δ', 53, 17),
    yAxes(2, 0, 3.25, yTicksC, between(yTicksC.concat([3.5])), 18, 7, 'tan δ', 42, 16)
  ),
  legend:[
    legend(0, 572, 51, 4.95, 32),
    legend(1, 553, 476, 5.2, 34),
    legend(2, 555, 937, 3.4, 33)
  ],
  title:[
    {text:'KCFLC 10S', left:446, top:31, padding:0, textStyle:{fontSize:17, fontWeight:'bold', fontFamily:FONT, color:'#000'}},
    {text:'(a)', left:99, top:43, padding:0, textStyle:{fontSize:18, fontWeight:'bold', fontFamily:FONT, color:'#000'}},
    {text:'KCFLC 10s+ 1μl CeO{sub|2} NPs', left:298, top:474, padding:0, textStyle:{fontSize:20, fontWeight:'bold', fontFamily:FONT, color:'#000', rich:{sub:{fontSize:12, fontWeight:'bold', fontFamily:FONT, color:'#000', verticalAlign:'bottom', lineHeight:12}}}},
    {text:'(b)', left:104, top:484, padding:0, textStyle:{fontSize:19, fontWeight:'bold', fontFamily:FONT, color:'#000'}},
    {text:'KCFLC 10s+ 5μl CeO{sub|2} NPs', left:328, top:935, padding:0, textStyle:{fontSize:17, fontWeight:'bold', fontFamily:FONT, color:'#000', rich:{sub:{fontSize:11, fontWeight:'bold', fontFamily:FONT, color:'#000', verticalAlign:'bottom', lineHeight:11}}}},
    {text:'(c)', left:93, top:952, padding:0, textStyle:{fontSize:17, fontWeight:'bold', fontFamily:FONT, color:'#000'}}
  ],
  series
};

const chart = echarts.init(document.getElementById('c'), null, {renderer:'canvas', width:636, height:1350});
chart.setOption(option);
</script>
</body></html>
